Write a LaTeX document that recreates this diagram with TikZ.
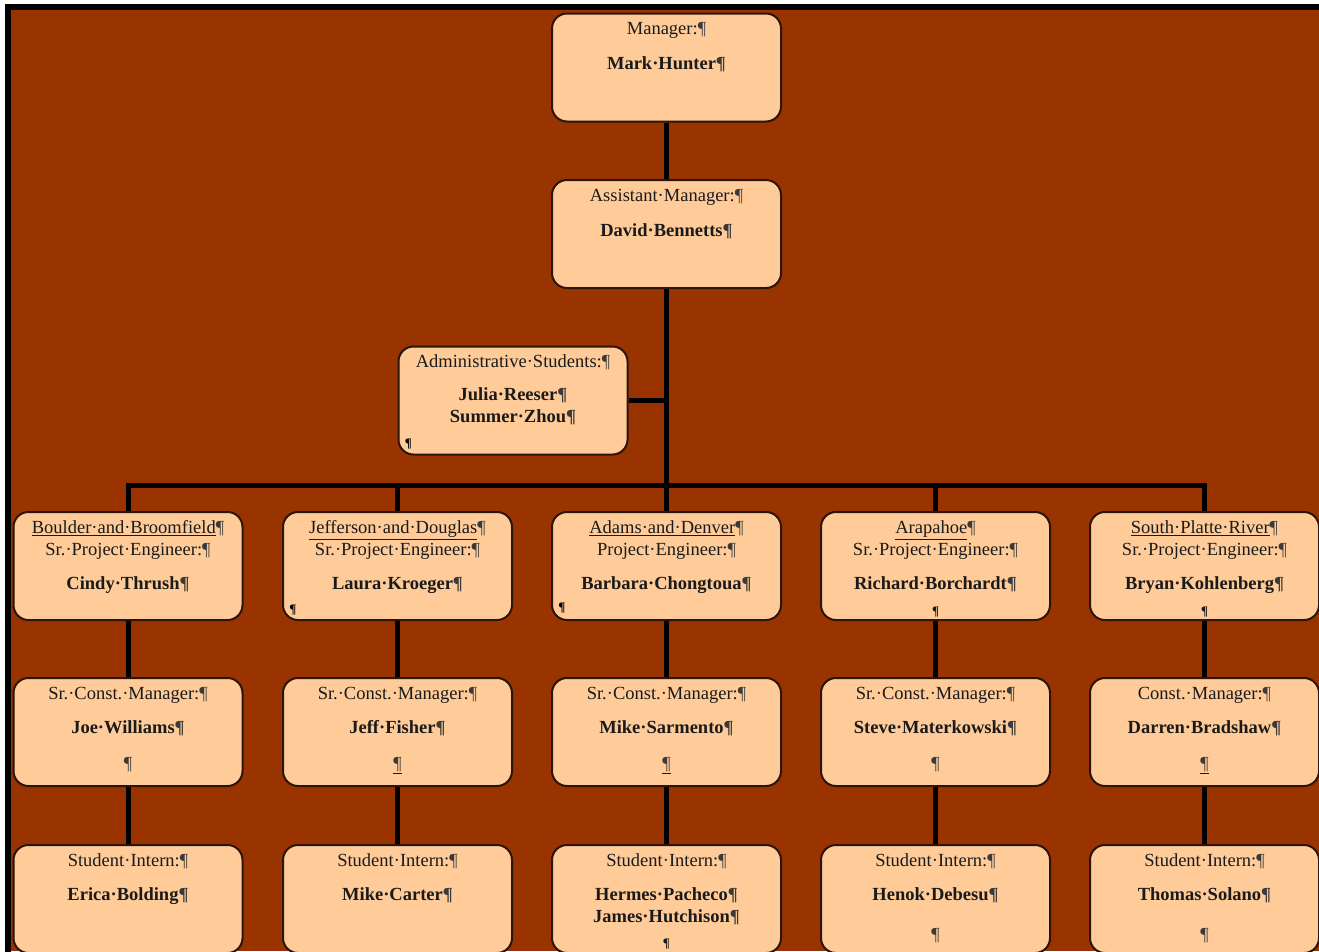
\documentclass[tikz,border=0pt]{standalone}
\usepackage{fontspec}
\setmainfont{Liberation Serif}
\usetikzlibrary{backgrounds}
\definecolor{bgbrown}{HTML}{993300}
\definecolor{peach}{HTML}{FFCC99}
\definecolor{boxedge}{HTML}{2B140A}
\definecolor{inkc}{HTML}{1A1A1A}
\definecolor{pilc}{HTML}{3A3A3A}
\newcommand{\pil}{{\color{pilc}¶}}
\newcommand{\cmark}{{\fontsize{13}{13}\selectfont\bfseries ¶}}
\newcommand{\bxt}[1]{\parbox[c][108pt][t]{224pt}{\centering\vspace*{6pt}\strut #1}}
\begin{document}
\begin{tikzpicture}[x=1pt,y=-1pt,
  box/.style={draw=boxedge,line width=2pt,fill=peach,rounded corners=15pt,
    minimum width=229pt,minimum height=108pt,inner sep=0pt,text=inkc,
    font=\fontsize{18.5}{22}\selectfont},
  conn/.style={draw=black,line width=5pt},
  cellmark/.style={inner sep=0pt,text=black,font=\fontsize{13}{13}\selectfont\bfseries}]
\useasboundingbox (0,0) rectangle (1319,951);

% top
\node[box] (mgr) at (666.5,67.5) {\bxt{Manager:\pil\\[13pt]\textbf{Mark·Hunter\pil}}};
\node[box] (asst) at (666.5,234) {\bxt{Assistant·Manager:\pil\\[13pt]\textbf{David·Bennetts\pil}}};
\node[box] (adm) at (513,400.5) {\bxt{Administrative·Students:\pil\\[11pt]\textbf{Julia·Reeser\pil}\\\textbf{Summer·Zhou\pil}}};
\node[cellmark] (mka) at ([shift={(11pt,11pt)}]adm.south west) {¶};

% row 1
\node[box] (e1) at (128,566) {\bxt{\underline{Boulder·and·Broomfield}\pil\\Sr.·Project·Engineer:\pil\\[12pt]\textbf{Cindy·Thrush\pil}}};
\node[box] (e2) at (397.5,566) {\bxt{\underline{Jefferson·and·Douglas}\pil\\Sr.·Project·Engineer:\pil\\[12pt]\textbf{Laura·Kroeger\pil}}};
\node[box] (e3) at (666.5,566) {\bxt{\underline{Adams·and·Denver}\pil\\Project·Engineer:\pil\\[12pt]\textbf{Barbara·Chongtoua\pil}}};
\node[box] (e4) at (935.5,566) {\bxt{\underline{Arapahoe}\pil\\Sr.·Project·Engineer:\pil\\[12pt]\textbf{Richard·Borchardt\pil}\\[4pt]\cmark}};
\node[box] (e5) at (1204.5,566) {\bxt{\underline{South·Platte·River}\pil\\Sr.·Project·Engineer:\pil\\[12pt]\textbf{Bryan·Kohlenberg\pil}\\[4pt]\cmark}};
\node[cellmark] (mk2) at ([shift={(11pt,11pt)}]e2.south west) {¶};
\node[cellmark] (mk3) at ([shift={(11pt,13pt)}]e3.south west) {¶};

% row 2
\node[box] (c1) at (128,732) {\bxt{Sr.·Const.·Manager:\pil\\[12pt]\textbf{Joe·Williams\pil}\\[14pt]\pil}};
\node[box] (c2) at (397.5,732) {\bxt{Sr.·Const.·Manager:\pil\\[12pt]\textbf{Jeff·Fisher\pil}\\[14pt]\underline{\pil}}};
\node[box] (c3) at (666.5,732) {\bxt{Sr.·Const.·Manager:\pil\\[12pt]\textbf{Mike·Sarmento\pil}\\[14pt]\underline{\pil}}};
\node[box] (c4) at (935.5,732) {\bxt{Sr.·Const.·Manager:\pil\\[12pt]\textbf{Steve·Materkowski\pil}\\[14pt]\pil}};
\node[box] (c5) at (1204.5,732) {\bxt{Const.·Manager:\pil\\[12pt]\textbf{Darren·Bradshaw\pil}\\[14pt]\underline{\pil}}};

% row 3
\node[box] (s1) at (128,899) {\bxt{Student·Intern:\pil\\[12pt]\textbf{Erica·Bolding\pil}}};
\node[box] (s2) at (397.5,899) {\bxt{Student·Intern:\pil\\[12pt]\textbf{Mike·Carter\pil}}};
\node[box] (s3) at (666.5,899) {\bxt{Student·Intern:\pil\\[12pt]\textbf{Hermes·Pacheco\pil}\\\textbf{James·Hutchison\pil}\\[3pt]\cmark}};
\node[box] (s4) at (935.5,899) {\bxt{Student·Intern:\pil\\[12pt]\textbf{Henok·Debesu\pil}\\[18pt]\pil}};
\node[box] (s5) at (1204.5,899) {\bxt{Student·Intern:\pil\\[12pt]\textbf{Thomas·Solano\pil}\\[18pt]\pil}};

\coordinate (bus) at (666.5,485);

\begin{pgfonlayer}{background}
  \fill[white] (0,0) rectangle (1319,951);
  \fill[bgbrown] (8,7) rectangle (1319,951);
  \draw[line width=6pt,black] (8,960) -- (8,7) -- (1325,7);
  \draw[conn] (mgr.south) -- (asst.north);
  \draw[conn] (asst.south) -- (bus);
  \draw[conn] (adm.east) -- (adm.east -| asst.south);
  \draw[conn,line join=miter] (e1.north) -- (e1.north |- bus) -- (e5.north |- bus) -- (e5.north);
  \foreach \n in {e2,e3,e4} {\draw[conn] (bus -| \n.north) -- (\n.north);}
  \foreach \i in {1,...,5} {
    \draw[conn] (e\i.south) -- (c\i.north);
    \draw[conn] (c\i.south) -- (s\i.north);
  }
\end{pgfonlayer}
\end{tikzpicture}
\end{document}
